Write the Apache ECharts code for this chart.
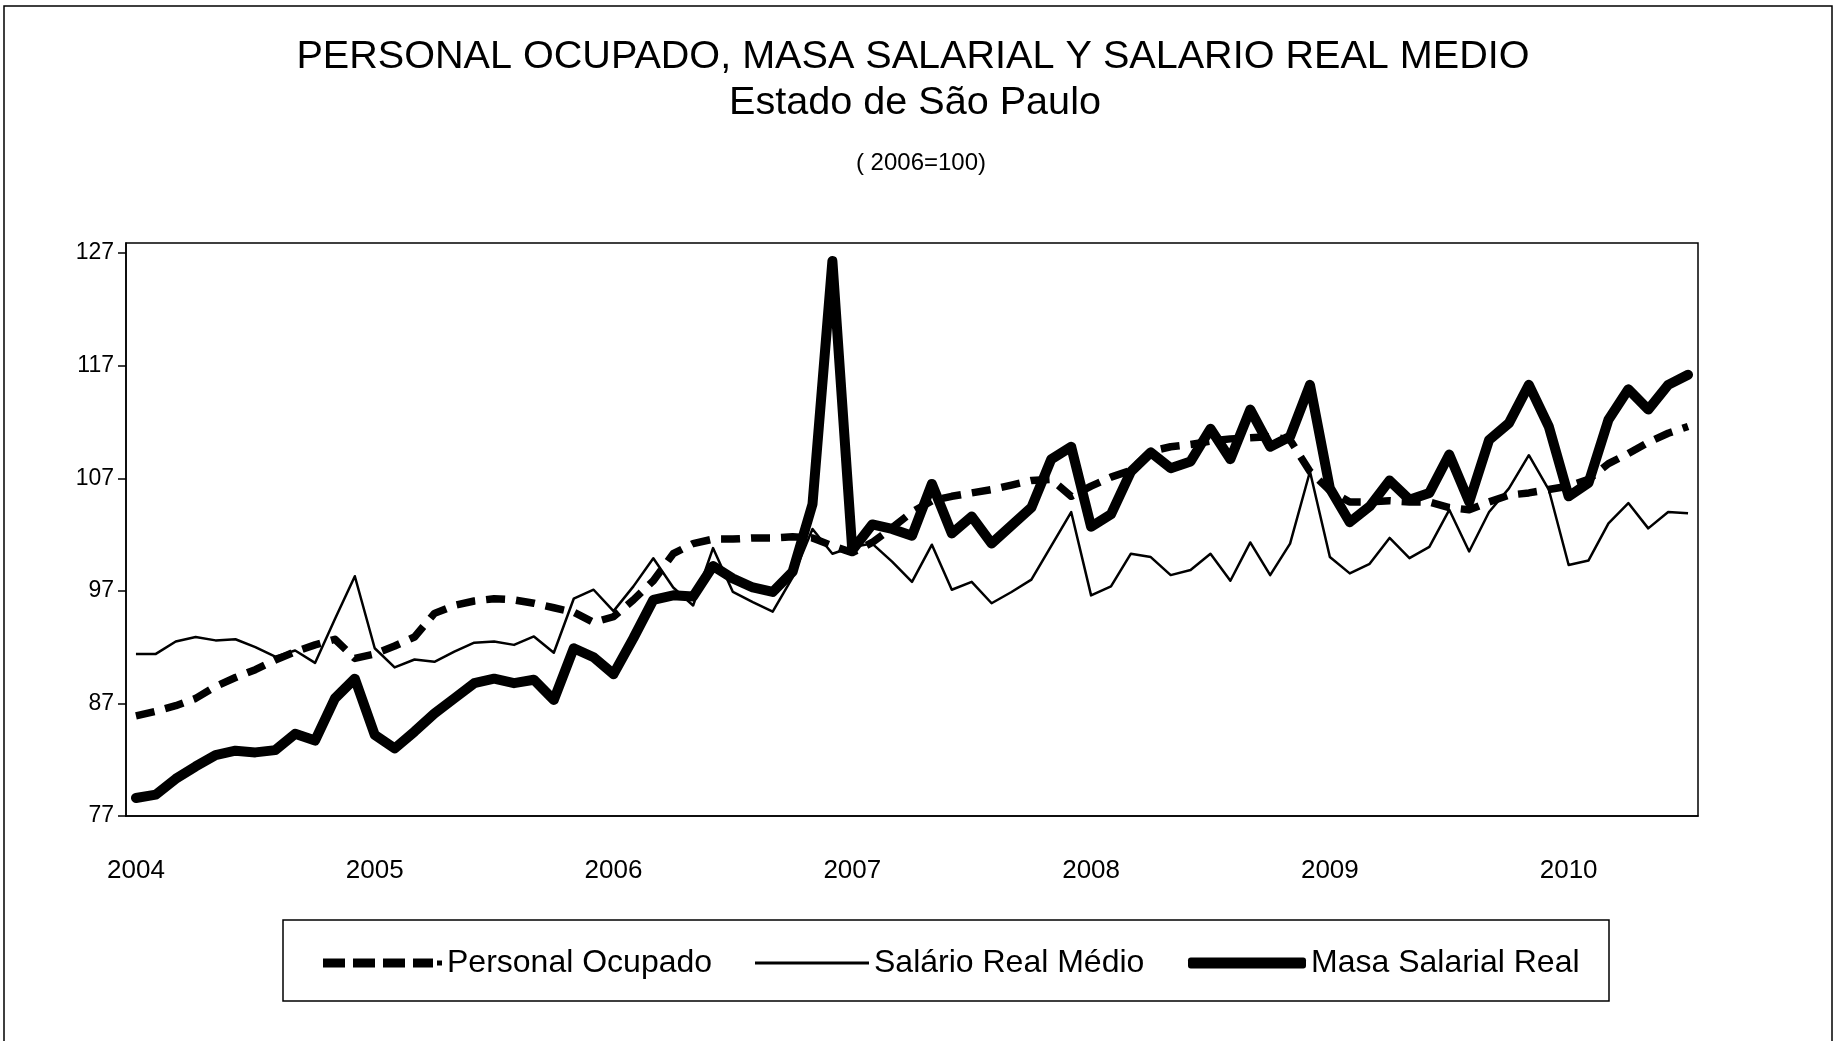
<!DOCTYPE html>
<html>
<head>
<meta charset="utf-8">
<title>Personal ocupado, masa salarial y salario real medio</title>
<script src="https://cdn.jsdelivr.net/npm/echarts@6/dist/echarts.min.js"></script>
<style>
    html, body { margin: 0; padding: 0; background: #fff; }
    #chart { width: 1844px; height: 1041px; }
</style>
</head>
<body>
<div id="chart"></div>
<script>
    // tick labels (one per year) and month numbers, Jan 2004 .. Jul 2010
    var years = ['2004', '2005', '2006', '2007', '2008', '2009', '2010'];
    var monthNames = ['01', '02', '03', '04', '05', '06', '07', '08', '09', '10', '11', '12'];
    var lastMonths = 7; // 2010 stops in July

    // Personal Ocupado (2006=100)
    var personalOcupado = [
        85.9, 86.3, 86.8, 87.45, 88.5, 89.3, 90.0, 90.85, 91.6, 92.2, 92.7, 91.0,
        91.4, 92.1, 92.9, 95.0, 95.7, 96.1, 96.3, 96.2, 95.9, 95.5, 95.1, 94.2,
        94.7, 96.2, 97.9, 100.3, 101.2, 101.6, 101.6, 101.7, 101.7, 101.8, 101.7, 101.0,
        100.4, 101.3, 102.6, 104.0, 105.0, 105.4, 105.7, 106.0, 106.4, 106.8, 106.9, 105.4,
        106.3, 107.1, 107.7, 109.4, 109.8, 110.0, 110.3, 110.5, 110.6, 110.7, 110.4, 107.6,
        105.9, 104.9, 104.9, 105.0, 104.9, 104.9, 104.4, 104.2, 104.9, 105.5, 105.7, 106.0,
        106.3, 106.9, 108.3, 109.2, 110.2, 111.0, 111.6
    ];

    // Salário Real Médio
    var salarioReal = [
        91.4, 91.4, 92.5, 92.9, 92.6, 92.7, 92.0, 91.15, 91.7, 90.6, 94.5, 98.3,
        91.9, 90.2, 90.9, 90.7, 91.6, 92.4, 92.5, 92.2, 92.95, 91.5, 96.3, 97.1,
        95.2, 97.4, 99.9, 97.3, 95.7, 100.8, 96.9, 96.0, 95.15, 98.2, 102.5, 100.3,
        100.9, 101.2, 99.6, 97.8, 101.1, 97.1, 97.8, 95.9, 96.9, 98.0, 101.0, 104.0,
        96.6, 97.4, 100.3, 100.0, 98.4, 98.85, 100.3, 97.9, 101.3, 98.4, 101.2, 107.6,
        100.0, 98.55, 99.4, 101.7, 99.9, 100.9, 104.2, 100.5, 104.0, 106.1, 109.05, 106.0,
        99.3, 99.7, 103.0, 104.8, 102.55, 104.0, 103.9
    ];

    // Masa Salarial Real
    var masaSalarial = [
        78.6, 78.9, 80.3, 81.4, 82.4, 82.8, 82.65, 82.85, 84.3, 83.7, 87.45, 89.2,
        84.2, 83.0, 84.5, 86.1, 87.45, 88.8, 89.2, 88.8, 89.1, 87.3, 91.9, 91.1,
        89.6, 92.8, 96.2, 96.6, 96.5, 99.2, 98.1, 97.3, 96.9, 98.7, 104.7, 126.3,
        100.6, 102.9, 102.5, 101.9, 106.5, 102.1, 103.6, 101.2, 102.8, 104.4, 108.7, 109.8,
        102.7, 103.8, 107.6, 109.3, 107.9, 108.5, 111.4, 108.7, 113.1, 109.8, 110.7, 115.3,
        106.1, 103.1, 104.5, 106.8, 105.1, 105.7, 109.1, 104.9, 110.4, 111.9, 115.3, 111.6,
        105.4, 106.6, 112.2, 114.9, 113.1, 115.3, 116.2
    ];

    // y ticks 77..127; the plot frame reaches a little above the last tick
    var yTicks = [77, 87, 97, 107, 117, 127];
    var yTop = 127.9;

    var months = [];
    years.forEach(function (y, k) {
        var n = (k === years.length - 1) ? lastMonths : 12;
        for (var m = 0; m < n; m++) {
            months.push(y + '-' + monthNames[m]);
        }
    });

    var font = 'Liberation Sans, Arial, sans-serif';
    var legendText = { fontFamily: font, fontSize: 32, color: '#000' };
    // four dashes and a dot, like the sample in the original legend
    var dashIcon = 'path://M0,0h22v9h-22z M30,0h22v9h-22z M60,0h22v9h-22z M90,0h20v9h-20z M114,2h5v5h-5z';

    var chart = echarts.init(document.getElementById('chart'));
    var option = {
        animation: false,
        backgroundColor: '#fff',
        title: [{
            text: 'PERSONAL OCUPADO, MASA SALARIAL Y SALARIO REAL MEDIO',
            left: 908,
            textAlign: 'center',
            top: 32,
            textStyle: { fontFamily: font, fontSize: 39.6, fontWeight: 'normal', color: '#000' }
        }, {
            text: 'Estado de São Paulo',
            left: 910,
            textAlign: 'center',
            top: 78,
            textStyle: { fontFamily: font, fontSize: 39.6, fontWeight: 'normal', color: '#000' }
        }, {
            text: '( 2006=100)',
            left: 916,
            textAlign: 'center',
            top: 146,
            textStyle: { fontFamily: font, fontSize: 24, fontWeight: 'normal', color: '#000' }
        }],
        graphic: [{
            // outer frame of the picture
            type: 'rect',
            shape: { x: 4, y: 6, width: 1828, height: 1050 },
            style: { fill: null, stroke: '#000', lineWidth: 1.5 },
            silent: true
        }, {
            // legend box
            type: 'rect',
            shape: { x: 283, y: 920, width: 1326, height: 81 },
            style: { fill: null, stroke: '#000', lineWidth: 1.5 },
            silent: true
        }],
        legend: [{
            left: 323,
            top: 947,
            padding: 0,
            itemWidth: 119,
            itemHeight: 9,
            itemStyle: { borderWidth: 0 },
            textStyle: legendText,
            data: [{ name: 'Personal Ocupado', icon: dashIcon }]
        }, {
            left: 755,
            top: 947,
            padding: 0,
            itemWidth: 114,
            itemHeight: 3,
            itemStyle: { borderWidth: 0 },
            textStyle: legendText,
            data: [{ name: 'Salário Real Médio', icon: 'rect' }]
        }, {
            left: 1188,
            top: 947,
            padding: 0,
            itemWidth: 118,
            itemHeight: 11,
            itemStyle: { borderWidth: 0 },
            textStyle: legendText,
            data: [{ name: 'Masa Salarial Real', icon: 'roundRect' }]
        }],
        grid: {
            left: 126,
            right: 146,
            top: 243,
            bottom: 225,
            show: true,
            borderColor: '#000',
            borderWidth: 1.5
        },
        xAxis: {
            type: 'category',
            data: months,
            boundaryGap: true,
            axisLine: { lineStyle: { color: '#000', width: 1.5 } },
            axisTick: { interval: 11, length: 8, lineStyle: { color: '#000', width: 1.5 } },
            axisLabel: {
                interval: 11,
                margin: 42,
                fontFamily: font,
                fontSize: 26,
                color: '#000',
                formatter: function (v) { return v.slice(0, 4); }
            },
            splitLine: { show: false }
        },
        yAxis: {
            type: 'value',
            min: yTicks[0],
            max: yTop,
            interval: yTicks[1] - yTicks[0],
            axisLine: { show: true, lineStyle: { color: '#000', width: 1.5 } },
            axisTick: { show: true, length: 8, lineStyle: { color: '#000', width: 1.5 } },
            axisLabel: { margin: 12, fontFamily: font, fontSize: 23, color: '#000', showMaxLabel: false },
            splitLine: { show: false }
        },
        series: [{
            name: 'Personal Ocupado',
            type: 'line',
            symbol: 'none',
            data: personalOcupado,
            lineStyle: { color: '#000', width: 7.5, type: [19, 11], join: 'round' },
            itemStyle: { color: '#000' }
        }, {
            name: 'Salário Real Médio',
            type: 'line',
            symbol: 'none',
            data: salarioReal,
            lineStyle: { color: '#000', width: 2.5, join: 'round' },
            itemStyle: { color: '#000' }
        }, {
            name: 'Masa Salarial Real',
            type: 'line',
            symbol: 'none',
            data: masaSalarial,
            lineStyle: { color: '#000', width: 10, cap: 'round', join: 'round' },
            itemStyle: { color: '#000' }
        }]
    };
    chart.setOption(option);
</script>
</body>
</html>
